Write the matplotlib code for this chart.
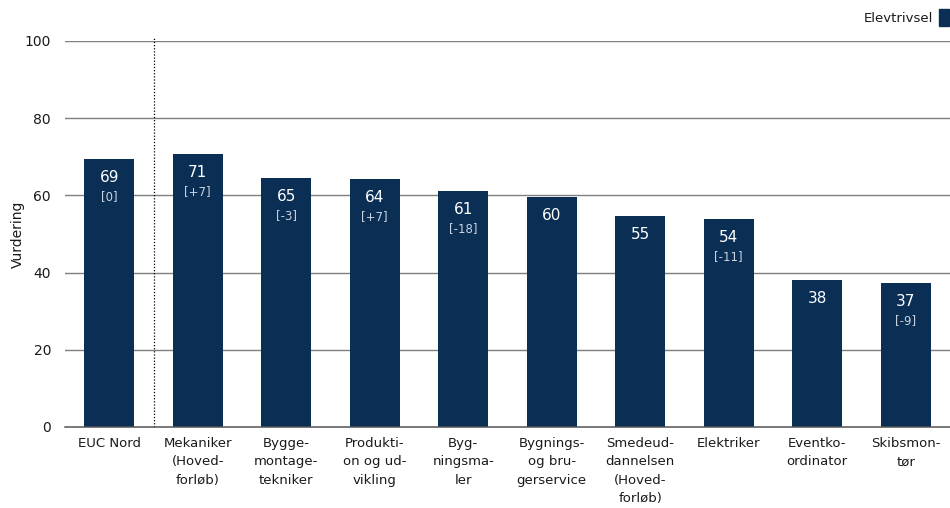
import matplotlib
matplotlib.use("Agg")
import matplotlib.pyplot as plt
from matplotlib.patches import Patch

# data
categories = [
    "EUC Nord",
    "Mekaniker\n(Hoved-\nforløb)",
    "Bygge-\nmontage-\ntekniker",
    "Produkti-\non og ud-\nvikling",
    "Byg-\nningsma-\nler",
    "Bygnings-\nog bru-\ngerservice",
    "Smedeud-\ndannelsen\n(Hoved-\nforløb)",
    "Elektriker",
    "Eventko-\nordinator",
    "Skibsmon-\ntør",
]
values = [69.4, 70.6, 64.5, 64.2, 61.1, 59.6, 54.7, 53.9, 38.1, 37.3]
value_labels = ["69", "71", "65", "64", "61", "60", "55", "54", "38", "37"]
change_labels = ["[0]", "[+7]", "[-3]", "[+7]", "[-18]", "", "", "[-11]", "", "[-9]"]
yticks = [0, 20, 40, 60, 80, 100]

BAR = "#0b2e55"
GRID = "#7f7f7f"
TXT = "#1a1a1a"

plt.rcParams["font.family"] = ["DejaVu Sans"]

fig = plt.figure(figsize=(9.5, 5.08), dpi=100)
ax = fig.add_axes([65 / 950, 1 - 427 / 508, 885 / 950, (427 - 41) / 508])

x = list(range(len(categories)))
bars = ax.bar(x, values, width=0.565, color=BAR, zorder=3)

for xi, v, lab, ch in zip(x, values, value_labels, change_labels):
    ax.annotate(lab, (xi, v), xytext=(0, -13.3), textcoords="offset points",
                ha="center", va="center", color="white", fontsize=11, zorder=4)
    if ch:
        ax.annotate(ch, (xi, v), xytext=(0, -26.8), textcoords="offset points",
                    ha="center", va="center", color="#c9d2de", fontsize=8.5, zorder=4)

ax.set_xlim(-0.5, len(categories) - 0.5)
ax.set_ylim(0, 100)
ax.set_yticks(yticks)
ax.set_yticklabels([str(t) for t in yticks], fontsize=10, color=TXT)
ax.set_xticks(x)
ax.set_xticklabels(categories, fontsize=9.5, color=TXT, linespacing=1.55, va="top")
ax.tick_params(axis="both", length=0)
ax.tick_params(axis="x", pad=7)
ax.tick_params(axis="y", pad=10)

for t in yticks[1:]:
    ax.axhline(t, color=GRID, lw=1.0, zorder=1)

for s in ["top", "right", "left"]:
    ax.spines[s].set_visible(False)
ax.spines["bottom"].set_color("#555555")
ax.spines["bottom"].set_linewidth(1.1)
ax.spines["bottom"].set_zorder(5)

# dotted separator after EUC Nord
ax.plot([0.5, 0.5], [0, 100.8], color="black", lw=0.9, ls=(0, (1, 1.5)),
        zorder=2, clip_on=False)

ax.set_ylabel("Vurdering", fontsize=10, color=TXT)
ax.yaxis.set_label_coords(-40 / 885, 0.5)

fig.legend(handles=[Patch(color=BAR, label="Elevtrivsel")], loc="upper right",
           bbox_to_anchor=(1.009, 1.0), frameon=False, markerfirst=False,
           fontsize=9.5, handlelength=0.75, handleheight=1.6, handletextpad=0.45,
           borderaxespad=0.0, borderpad=0.7, labelcolor=TXT)

fig.savefig("out.png", dpi=100)
